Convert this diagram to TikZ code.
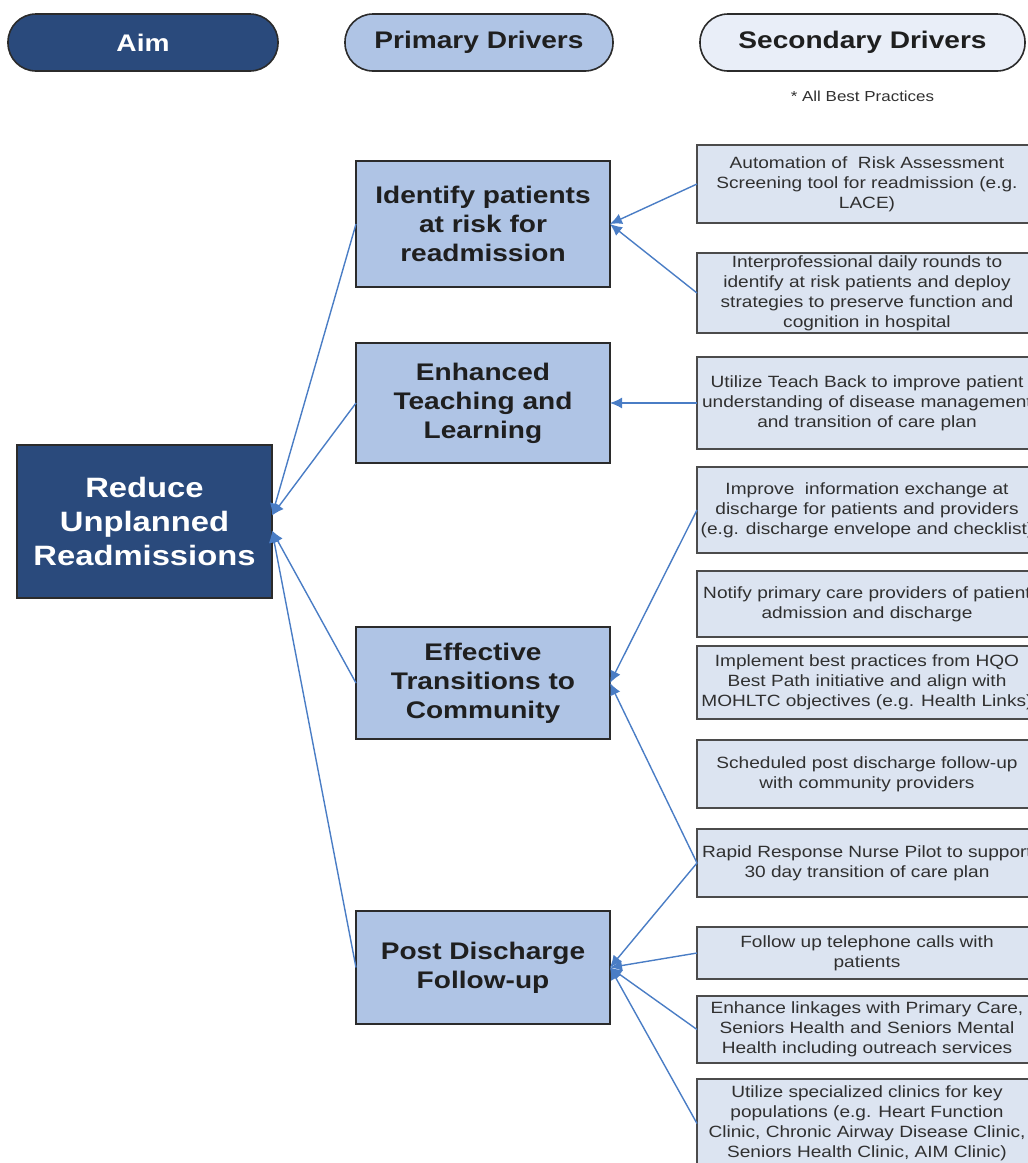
\documentclass[tikz,border=0pt]{standalone}
\usepackage{fontspec}
\setmainfont{Liberation Sans}[FakeStretch=1.17]
\usetikzlibrary{arrows.meta, positioning}
\definecolor{aimnavy}{HTML}{2A4A7C}
\definecolor{pdblue}{HTML}{AFC4E5}
\definecolor{sdblue}{HTML}{DCE4F1}
\definecolor{sdpill}{HTML}{E9EEF8}
\definecolor{linkblue}{HTML}{4A7DC5}
\definecolor{boxline}{HTML}{2B2B2B}
\definecolor{sdtext}{HTML}{303030}

\begin{document}
\begin{tikzpicture}[x=1pt, y=-1pt,
  pill/.style={rectangle, rounded corners=28pt, minimum height=57pt,
               draw=boxline, line width=1.6pt, inner sep=0pt, outer sep=0pt,
               font=\fontsize{24}{29}\selectfont\bfseries},
  aimbox/.style={rectangle, fill=aimnavy, draw=boxline, line width=2pt,
                 text=white, align=center, minimum width=255pt,
                 minimum height=153pt, outer sep=0pt,
                 font=\fontsize{28}{34}\selectfont\bfseries},
  pdbox/.style={rectangle, fill=pdblue, draw=boxline, line width=2pt,
                text=black!88, align=center, minimum width=254pt, outer sep=0pt,
                font=\fontsize{24}{29}\selectfont\bfseries},
  sdbox/.style={rectangle, fill=sdblue, draw=boxline!85, line width=2pt,
                text=sdtext, align=center, minimum width=340pt, inner sep=1pt,
                outer sep=0pt, font=\fontsize{16.3}{20}\selectfont},
  arr/.style={-{Latex[length=12pt, width=11pt]}, linkblue, line width=1.4pt},
]
  \useasboundingbox (0,0) rectangle (1028,1163);
  \clip (0,0) rectangle (1028,1163);

  % column headers
  \node[pill, fill=aimnavy, text=white, minimum width=270pt] (aimhdr) at (143,42.5) {Aim};
  \node[pill, fill=pdblue, text=black!88, minimum width=268pt] (pdhdr) at (479,42.5) {Primary Drivers};
  \node[pill, fill=sdpill, text=black!88, minimum width=325pt] (sdhdr) at (862.5,42.5) {Secondary Drivers};
  \node[below=20pt of sdhdr, inner sep=0pt, text=sdtext,
        font=\fontsize{14.5}{17}\selectfont] (bestnote) {* All Best Practices};

  % aim
  \node[aimbox] (aim) at (144.5,521.5) {Reduce\\Unplanned\\Readmissions};

  % primary drivers
  \node[pdbox, minimum height=126pt] (pd1) at (483,224) {Identify patients\\at risk for\\readmission};
  \node[pdbox, minimum height=120pt] (pd2) at (483,403) {Enhanced\\Teaching and\\Learning};
  \node[pdbox, minimum height=112pt] (pd3) at (483,683) {Effective\\Transitions to\\Community};
  \node[pdbox, minimum height=113pt] (pd4) at (483,967.5) {Post Discharge\\Follow-up};

  % secondary drivers
  \node[sdbox, minimum height=78pt, anchor=north west] (sd1) at (697,145)
    {Automation of\ \ Risk Assessment\\Screening tool for readmission (e.g.\\LACE)};
  \node[sdbox, minimum height=80pt, below=30pt of sd1] (sd2)
    {Interprofessional daily rounds to\\identify at risk patients and deploy\\strategies to preserve function and\\cognition in hospital};
  \node[sdbox, minimum height=92pt, below=24pt of sd2] (sd3)
    {Utilize Teach Back to improve patient\\understanding of disease management\\and transition of care plan};
  \node[sdbox, minimum height=86pt, below=18pt of sd3] (sd4)
    {Improve\ \ information exchange at\\discharge for patients and providers\\(e.g. discharge envelope and checklist)};
  \node[sdbox, minimum height=66pt, below=18pt of sd4] (sd5)
    {Notify primary care providers of patient\\admission and discharge};
  \node[sdbox, minimum height=73pt, below=9pt of sd5] (sd6)
    {Implement best practices from HQO\\Best Path initiative and align with\\MOHLTC objectives (e.g. Health Links)};
  \node[sdbox, minimum height=68pt, below=21pt of sd6] (sd7)
    {Scheduled post discharge follow-up\\with community providers};
  \node[sdbox, minimum height=68pt, below=21pt of sd7] (sd8)
    {Rapid Response Nurse Pilot to support\\30 day transition of care plan};
  \node[sdbox, minimum height=52pt, below=30pt of sd8] (sd9)
    {Follow up telephone calls with\\patients};
  \node[sdbox, minimum height=67pt, below=17pt of sd9] (sd10)
    {Enhance linkages with Primary Care,\\Seniors Health and Seniors Mental\\Health including outreach services};
  \node[sdbox, minimum height=89pt, below=16pt of sd10] (sd11)
    {Utilize specialized clinics for key\\populations (e.g. Heart Function\\Clinic, Chronic Airway Disease Clinic,\\Seniors Health Clinic, AIM Clinic)};

  % primary -> aim
  \draw[arr] (pd1.west) -- ([yshift=6pt]aim.east);
  \draw[arr] (pd2.west) -- ([yshift=6pt]aim.east);
  \draw[arr] (pd3.west) -- ([yshift=-9pt]aim.east);
  \draw[arr] (pd4.west) -- ([yshift=-9pt]aim.east);

  % secondary -> primary
  \draw[arr] (sd1.west) -- (pd1.east);
  \draw[arr] (sd2.west) -- (pd1.east);
  \draw[arr] (sd3.west) -- (pd2.east);
  \draw[arr] (sd4.west) -- (pd3.east);
  \draw[arr] (sd8.west) -- (pd3.east);
  \draw[arr] (sd8.west) -- (pd4.east);
  \draw[arr] (sd9.west) -- (pd4.east);
  \draw[arr] (sd10.west) -- (pd4.east);
  \draw[arr] (sd11.west) -- (pd4.east);
\end{tikzpicture}
\end{document}
